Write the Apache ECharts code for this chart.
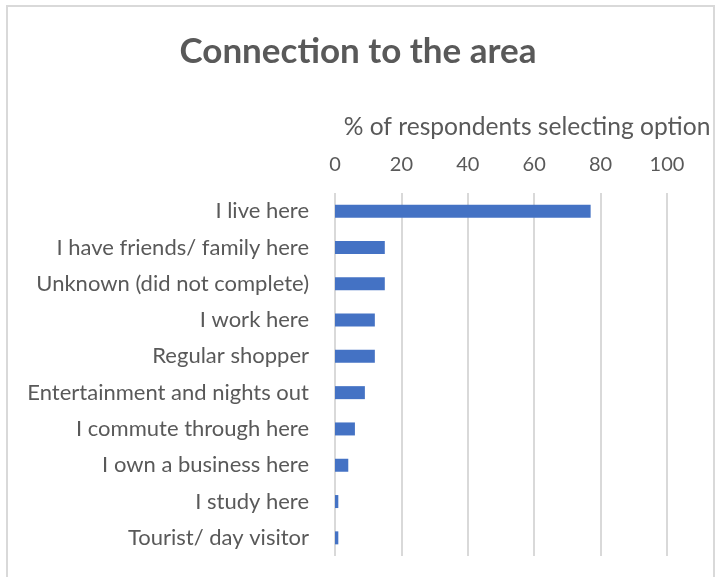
<!DOCTYPE html>
<html>
<head>
<meta charset="utf-8">
<script src="https://cdn.jsdelivr.net/npm/echarts@6/dist/echarts.min.js"></script>
<style>
  html, body { margin: 0; padding: 0; background: #fff; }
  #chart { width: 716px; height: 577px; }
</style>
</head>
<body>
<div id="chart"></div>
<script>
// Reasons respondents gave for their connection to the area
const categories = [
  'I live here',
  'I have friends/ family here',
  'Unknown (did not complete)',
  'I work here',
  'Regular shopper',
  'Entertainment and nights out',
  'I commute through here',
  'I own a business here',
  'I study here',
  'Tourist/ day visitor'
];
const percentSelecting = [77, 15, 15, 12, 12, 9, 6, 4, 1, 1];
const tickValues = [0, 20, 40, 60, 80, 100];

const FONT = 'Lato, "Open Sans", sans-serif';
const TEXT = '#595959';
const GRID = '#d9d9d9';

const chart = echarts.init(document.getElementById('chart'), null, { renderer: 'canvas' });

chart.setOption({
  animation: false,
  backgroundColor: '#ffffff',
  title: {
    text: 'Connection to the area',
    left: 'center',
    top: 29,
    textStyle: { fontFamily: FONT, fontSize: 35, fontWeight: 'bold', color: TEXT }
  },
  graphic: [{
    type: 'rect',
    shape: { x: 7, y: 6, width: 707, height: 700 },
    style: { fill: 'none', stroke: GRID, lineWidth: 2 },
    silent: true
  }],
  grid: { left: 335, right: 49, top: 193, bottom: 21, containLabel: false },
  xAxis: {
    type: 'value',
    position: 'top',
    min: tickValues[0],
    max: tickValues[tickValues.length - 1],
    interval: tickValues[1] - tickValues[0],
    name: '% of respondents selecting option',
    nameLocation: 'middle',
    nameGap: 53,
    nameMoveOverlap: false,
    nameTextStyle: { fontFamily: FONT, fontSize: 24.6, color: TEXT, padding: [0, 0, 0, 52] },
    axisLine: { show: false },
    axisTick: { show: false },
    axisLabel: { fontFamily: FONT, fontSize: 20, color: TEXT, margin: 18 },
    splitLine: { show: true, lineStyle: { color: GRID, width: 2 } }
  },
  yAxis: {
    type: 'category',
    data: categories,
    inverse: true,
    axisLine: { show: false },
    axisTick: { show: false },
    axisLabel: { fontFamily: FONT, fontSize: 22, color: TEXT, margin: 26 }
  },
  series: [{
    type: 'bar',
    data: percentSelecting,
    barWidth: 13,
    itemStyle: { color: '#4472C4' }
  }]
});
</script>
</body>
</html>
